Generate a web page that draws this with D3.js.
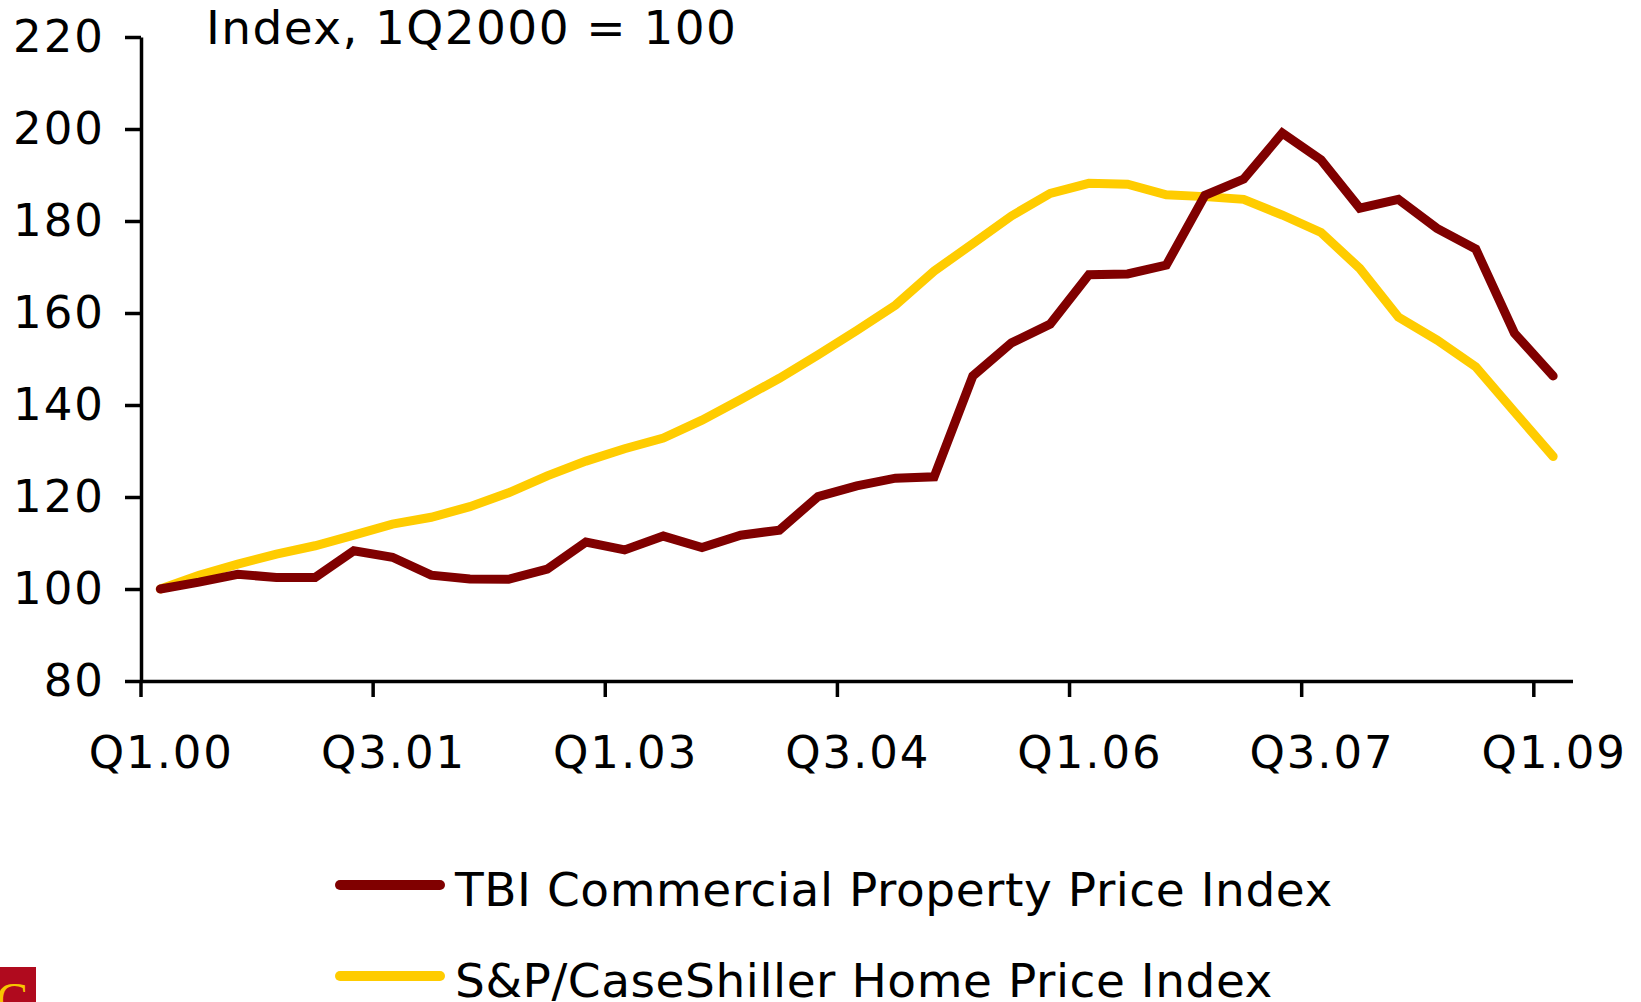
<!DOCTYPE html>
<html>
<head>
<meta charset="utf-8">
<script src="https://cdn.jsdelivr.net/npm/d3@7"></script>
<style>
  body { margin: 0; background: #fff; }
  text { font-family: Verdana, 'DejaVu Sans', sans-serif; fill: #000; }
</style>
</head>
<body>
<div id="chart"></div>
<script>
var W = 1641, H = 1002;

// quarters Q1.00 .. Q1.09
var quarters = [];
for (var yr = 0; yr <= 9; yr++) {
  for (var q = 1; q <= 4; q++) {
    if (yr === 9 && q > 1) break;
    quarters.push('Q' + q + '.0' + yr);
  }
}

var tickLabels = ['Q1.00', 'Q3.01', 'Q1.03', 'Q3.04', 'Q1.06', 'Q3.07', 'Q1.09'];
var yTicks = [80, 100, 120, 140, 160, 180, 200, 220];

// TBI Commercial Property Price Index
var tbi = [100, 101.5, 103.2, 102.5, 102.5, 108.3, 106.9, 103.0, 102.2, 102.1,
  104.3, 110.2, 108.5, 111.5, 109.0, 111.7, 112.8, 120.1, 122.4, 124.1,
  124.4, 146.3, 153.5, 157.6, 168.3, 168.5, 170.4, 185.6, 189.1, 199.1,
  193.3, 182.8, 184.7, 178.4, 173.9, 155.6, 146.3];

// S&P/Case-Shiller Home Price Index
var caseShiller = [100, 103.0, 105.4, 107.6, 109.4, 111.7, 114.1, 115.6, 117.9, 120.9,
  124.6, 127.8, 130.5, 132.8, 136.7, 141.2, 145.8, 150.9, 156.2, 161.7,
  169.1, 175.1, 181.1, 186.0, 188.2, 188.0, 185.7, 185.3, 184.7, 181.3,
  177.5, 169.7, 159.1, 154.1, 148.3, 138.5, 128.8];

var seriesNames = ['TBI Commercial Property Price Index', 'S&P/CaseShiller Home Price Index'];
var colors = ['#800000', '#FFCC00'];

var svg = d3.select('#chart')
  .append('svg')
  .attr('width', W)
  .attr('height', H);

var x = d3.scaleBand()
  .domain(quarters)
  .range([141, 1572.5])
  .padding(0);

var y = d3.scaleLinear()
  .domain([80, 220])
  .range([681, 37]);

var bw = x.bandwidth();

// title
svg.append('text')
  .attr('x', 206)
  .attr('y', 44)
  .style('font-size', '47px')
  .style('letter-spacing', '1.4px')
  .text('Index, 1Q2000 = 100');

// lines
var line = d3.line()
  .x(function(d, i) { return x(quarters[i]) + bw / 2; })
  .y(function(d) { return y(d); });

[caseShiller, tbi].forEach(function(s, k) {
  svg.append('path')
    .datum(s)
    .attr('d', line)
    .attr('fill', 'none')
    .attr('stroke', k === 0 ? colors[1] : colors[0])
    .attr('stroke-width', 9)
    .attr('stroke-linecap', 'round')
    .attr('stroke-linejoin', 'miter');
});

// y axis
var yAxis = svg.append('g')
  .attr('transform', 'translate(141,0)')
  .call(d3.axisLeft(y).tickValues(yTicks).tickSize(16).tickPadding(20).tickSizeOuter(0));

yAxis.selectAll('text')
  .style('font-size', '45px')
  .style('letter-spacing', '2px')
  .style('font-family', "Verdana, 'DejaVu Sans', sans-serif");

// x axis: ticks at category boundaries, labels centred on categories
var xAxis = svg.append('g')
  .attr('transform', 'translate(0,681)')
  .call(d3.axisBottom(x).tickValues(tickLabels).tickSize(16).tickSizeOuter(0));

xAxis.selectAll('.tick line')
  .attr('x1', -bw / 2)
  .attr('x2', -bw / 2);

xAxis.selectAll('text')
  .attr('x', 1)
  .attr('y', 87)
  .attr('dy', 0)
  .style('font-size', '45px')
  .style('letter-spacing', '1.9px')
  .style('font-family', "Verdana, 'DejaVu Sans', sans-serif");

svg.selectAll('.domain, .tick line')
  .attr('stroke', '#000')
  .attr('stroke-width', 3.5);

// legend
var legend = svg.append('g');
seriesNames.forEach(function(name, i) {
  var ly = 885 + i * 91;
  legend.append('line')
    .attr('x1', 340)
    .attr('x2', 440)
    .attr('y1', ly)
    .attr('y2', ly)
    .attr('stroke', colors[i])
    .attr('stroke-width', 10)
    .attr('stroke-linecap', 'round');
  legend.append('text')
    .attr('x', 455)
    .attr('y', ly + 21)
    .style('font-size', '47px')
    .style('letter-spacing', '0.55px')
    .text(name);
});

// logo corner
svg.append('rect')
  .attr('x', 0)
  .attr('y', 967)
  .attr('width', 36)
  .attr('height', 35)
  .attr('fill', '#b00a1e');

svg.append('text')
  .attr('x', -4)
  .attr('y', 1016)
  .style('font-family', "'Liberation Serif', serif")
  .style('font-size', '48px')
  .style('fill', '#f7c600')
  .text('C');
</script>
</body>
</html>
